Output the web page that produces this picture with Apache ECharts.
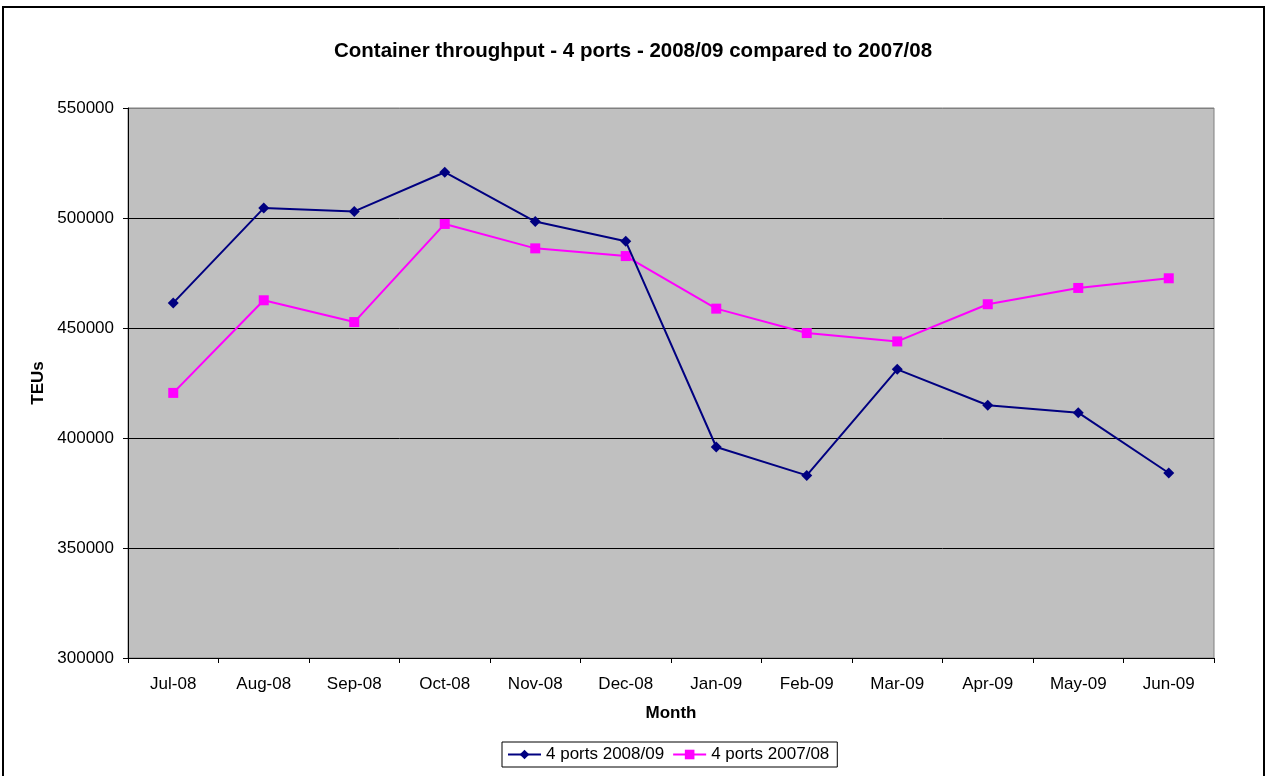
<!DOCTYPE html>
<html>
<head>
<meta charset="utf-8">
<title>Container throughput</title>
<script src="https://cdn.jsdelivr.net/npm/echarts@6/dist/echarts.min.js"></script>
<style>
    html, body { margin: 0; padding: 0; background: #ffffff; }
    #chart { width: 1266px; height: 776px; }
</style>
</head>
<body>
<div id="chart"></div>
<script>
// Chart data
const months = ['Jul-08', 'Aug-08', 'Sep-08', 'Oct-08', 'Nov-08', 'Dec-08',
                'Jan-09', 'Feb-09', 'Mar-09', 'Apr-09', 'May-09', 'Jun-09'];
const ports0809 = [461400, 504500, 503000, 520800, 498400, 489400,
                   395900, 383000, 431200, 414900, 411500, 384100];
const ports0708 = [420500, 462600, 452700, 497300, 486200, 482700,
                   458800, 447700, 443900, 460800, 468200, 472600];
const yTicks = [300000, 350000, 400000, 450000, 500000, 550000];

const font = '"Liberation Sans", Arial, sans-serif';

const chart = echarts.init(document.getElementById('chart'));

// gridlines black, except the top one which is the grey plot border
const splitColors = yTicks.map((t, i) => i === yTicks.length - 1 ? '#808080' : '#000');

const option = {
    backgroundColor: '#ffffff',
    animation: false,
    title: {
        text: 'Container throughput - 4 ports - 2008/09 compared to 2007/08',
        left: 'center',
        top: 36,
        textStyle: { fontFamily: font, fontSize: 20.5, fontWeight: 'bold', color: '#000' }
    },
    // outer chart frame
    graphic: [{
        type: 'rect',
        shape: { x: 3, y: 7, width: 1261, height: 800 },
        style: { fill: 'none', stroke: '#000', lineWidth: 2 },
        silent: true
    }],
    grid: {
        left: 128,
        top: 108,
        width: 1086,
        height: 550,
        show: true,
        backgroundColor: '#c0c0c0',
        borderColor: '#808080',
        borderWidth: 1
    },
    legend: {
        top: 742,
        left: 502,
        itemWidth: 33,
        itemHeight: 12,
        itemGap: 8,
        padding: [4, 8, 4, 5],
        borderColor: '#000',
        borderWidth: 1,
        borderRadius: 0,
        textStyle: { fontFamily: font, fontSize: 17, color: '#000' },
        data: ['4 ports 2008/09', '4 ports 2007/08']
    },
    xAxis: {
        type: 'category',
        data: months,
        boundaryGap: true,
        name: 'Month',
        nameLocation: 'middle',
        nameGap: 47,
        nameTextStyle: { fontFamily: font, fontSize: 17, fontWeight: 'bold', color: '#000' },
        axisLine: { lineStyle: { color: '#000', width: 1 } },
        axisTick: { show: true, length: 5, alignWithLabel: false, lineStyle: { color: '#000' } },
        axisLabel: { fontFamily: font, fontSize: 17, color: '#000', margin: 18 },
        splitLine: { show: false }
    },
    yAxis: {
        type: 'value',
        min: yTicks[0],
        max: yTicks[yTicks.length - 1],
        interval: 50000,
        name: 'TEUs',
        nameLocation: 'middle',
        nameGap: 77,
        nameRotate: 90,
        nameTextStyle: { fontFamily: font, fontSize: 17, fontWeight: 'bold', color: '#000' },
        axisLine: { show: true, lineStyle: { color: '#000', width: 1 } },
        axisTick: { show: true, length: 5, inside: false, lineStyle: { color: '#000' } },
        axisLabel: { fontFamily: font, fontSize: 17, color: '#000', margin: 14,
                     formatter: v => String(v) },
        splitLine: { show: true, lineStyle: { color: splitColors, width: 1 } }
    },
    series: [
        {
            name: '4 ports 2008/09',
            type: 'line',
            data: ports0809,
            symbol: 'diamond',
            symbolSize: 11,
            color: '#000080',
            lineStyle: { color: '#000080', width: 2 },
            itemStyle: { color: '#000080' },
            z: 3
        },
        {
            name: '4 ports 2007/08',
            type: 'line',
            data: ports0708,
            symbol: 'rect',
            symbolSize: 10,
            color: '#ff00ff',
            lineStyle: { color: '#ff00ff', width: 2 },
            itemStyle: { color: '#ff00ff' },
            z: 2
        }
    ]
};

chart.setOption(option);
</script>
</body>
</html>
